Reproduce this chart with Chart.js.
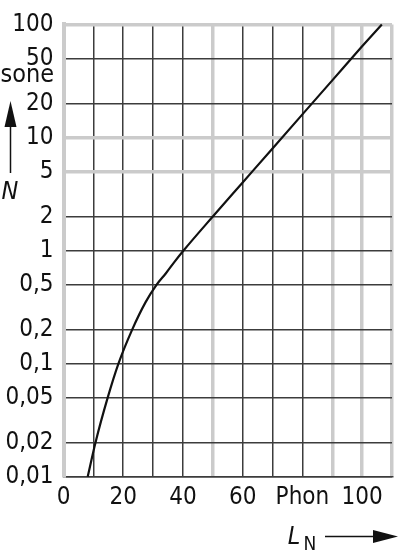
<!DOCTYPE html>
<html>
<head>
<meta charset="utf-8">
<script src="https://cdn.jsdelivr.net/npm/chart.js@4.4.1/dist/chart.umd.min.js"></script>
<style>
  html, body { margin: 0; padding: 0; background: #fff; overflow: hidden; }
  #wrap { position: relative; width: 399px; height: 560px; }
</style>
</head>
<body>
<div id="wrap"><canvas id="loudness"></canvas></div>
<script>
// loudness level L_N (phon) against loudness N (sone)
const levels = [8.1, 10.7, 14.8, 18.4, 23.0, 27.5, 31.2, 34.3, 37.1, 40.2, 50, 60, 70, 80, 90, 100, 106.6];
const sones = [0.01, 0.02, 0.05, 0.1, 0.2, 0.35, 0.5, 0.63, 0.79, 1, 2, 4, 8, 16, 32, 64, 100];

const yTicks = [0.01, 0.02, 0.05, 0.1, 0.2, 0.5, 1, 2, 5, 10, 20, 50, 100];
const xTickValues = [0, 20, 40, 60, 80, 100];
const xTickLabels = ['0', '20', '40', '60', 'Phon', '100'];
const yLightLines = [5, 10, 100];
const xLightLines = [0, 50, 90, 100, 110];

const dark = '#3c3c3c';
const light = '#cbcbcb';
const font = "'DejaVu Sans Condensed', 'DejaVu Sans', sans-serif";

const axisTitles = {
  id: 'axisTitles',
  afterDraw(chart) {
    const ctx = chart.ctx;
    ctx.save();
    ctx.fillStyle = '#111';
    ctx.strokeStyle = '#111';
    ctx.textBaseline = 'middle';

    // y axis: unit, arrow, symbol
    ctx.font = '25px ' + font;
    ctx.textAlign = 'right';
    ctx.fillText('sone', 54, 75);
    ctx.lineWidth = 1.5;
    ctx.beginPath();
    ctx.moveTo(10.5, 173);
    ctx.lineTo(10.5, 120);
    ctx.stroke();
    ctx.beginPath();
    ctx.moveTo(10.5, 101);
    ctx.lineTo(16.5, 127);
    ctx.lineTo(4.5, 127);
    ctx.closePath();
    ctx.fill();
    ctx.font = 'italic 25px ' + font;
    ctx.textAlign = 'center';
    ctx.fillText('N', 10, 192);

    // x axis symbol and arrow
    ctx.fillText('L', 294, 537);
    ctx.font = '19px ' + font;
    ctx.fillText('N', 310, 545);
    ctx.beginPath();
    ctx.moveTo(325, 536.5);
    ctx.lineTo(378, 536.5);
    ctx.stroke();
    ctx.beginPath();
    ctx.moveTo(398, 536.5);
    ctx.lineTo(373, 530);
    ctx.lineTo(373, 543);
    ctx.closePath();
    ctx.fill();
    ctx.restore();
  }
};

new Chart(document.getElementById('loudness'), {
  type: 'line',
  data: {
    datasets: [{
      data: levels.map((l, i) => ({ x: l, y: sones[i] })),
      borderColor: '#111',
      borderWidth: 2.2,
      pointRadius: 0,
      cubicInterpolationMode: 'monotone',
      clip: false
    }]
  },
  options: {
    responsive: true,
    maintainAspectRatio: false,
    animation: false,
    layout: { padding: { top: 20.7, right: 0, left: 0, bottom: 0 } },
    plugins: { legend: { display: false }, tooltip: { enabled: false } },
    scales: {
      x: {
        type: 'linear',
        min: 0,
        max: 110,
        afterFit: (scale) => { scale.height = 83.3; },
        border: { color: dark, width: 1.5 },
        grid: {
          drawTicks: false,
          color: (c) => xLightLines.includes(c.tick.value) ? light : dark,
          lineWidth: (c) => xLightLines.includes(c.tick.value) ? 3.5 : 1.5
        },
        ticks: {
          stepSize: 10,
          autoSkip: false,
          maxRotation: 0,
          padding: 7,
          color: '#111',
          font: { family: font, size: 24 },
          callback: (v) => {
            const i = xTickValues.indexOf(v);
            return i >= 0 ? xTickLabels[i] : '';
          }
        }
      },
      y: {
        type: 'logarithmic',
        min: 0.01,
        max: 100,
        afterFit: (scale) => { scale.width = 63.5; },
        afterBuildTicks: (scale) => { scale.ticks = yTicks.map(v => ({ value: v })); },
        border: { color: light, width: 4 },
        grid: {
          drawTicks: false,
          color: (c) => yLightLines.includes(c.tick.value) ? light : dark,
          lineWidth: (c) => yLightLines.includes(c.tick.value) ? 3.5 : 1.5
        },
        ticks: {
          autoSkip: false,
          padding: 10,
          color: '#111',
          font: { family: font, size: 24 },
          callback: (v) => String(v).replace('.', ',')
        }
      }
    }
  },
  plugins: [axisTitles]
});
</script>
</body>
</html>
